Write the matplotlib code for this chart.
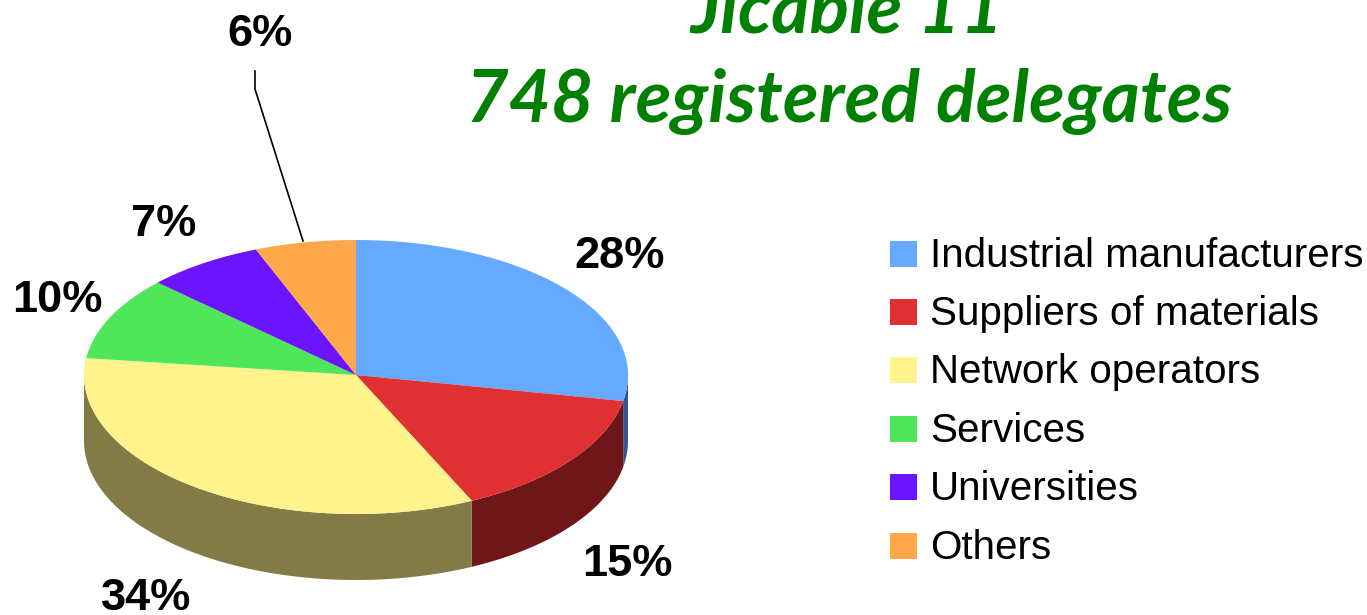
import matplotlib
import matplotlib.pyplot as plt
import numpy as np
matplotlib.use("Agg")

categories = ["Industrial manufacturers", "Suppliers of materials", "Network operators",
              "Services", "Universities", "Others"]
shares = [28, 15, 34, 10, 7, 6]
colors = ["#66aaff", "#e03034", "#fff48c", "#50e65a", "#6a14ff", "#ffa84a"]
side_colors = ["#2f5a8c", "#6e1618", "#827b46", "#28732d", "#350a80", "#805425"]
labels = ["28%", "15%", "34%", "10%", "7%", "6%"]
label_pos = [(620, 256), (627, 565), (146, 599), (57, 301), (164, 225), (260, 35)]
legend_y = [256, 314, 372, 431, 489, 548]
title = ["Jicable\u201911", "748 registered delegates"]

cx, cy, rx, ry_back, ry_front, depth = 356, 375, 272, 135, 139, 66


def rim(a):
    # a is clockwise degrees from the top, the near half of the pie is a bit deeper
    t = np.radians(a)
    c = np.cos(t)
    return cx + rx*np.sin(t), cy - np.where(c > 0, ry_back, ry_front)*c


fig = plt.figure(figsize=(13.67, 6.15), dpi=100)
ax = fig.add_axes([0, 0, 1, 1])
ax.set_xlim(0, 1367)
ax.set_ylim(615, 0)
ax.axis("off")

edges = np.cumsum([0] + shares) * 3.6

# side wall first, only the front half of the rim shows
for i in range(len(shares)):
    lo, hi = max(edges[i], 90), min(edges[i+1], 270)
    if hi <= lo:
        continue
    a = np.linspace(lo, hi, 100)
    x, y = rim(a)
    ax.fill(np.r_[x, x[::-1]], np.r_[y, y[::-1] + depth], color=side_colors[i], lw=0)

# top face
for i in range(len(shares)):
    a = np.linspace(edges[i], edges[i+1], 100)
    x, y = rim(a)
    ax.fill(np.r_[cx, x], np.r_[cy, y], color=colors[i], lw=0)

for s, (x, y) in zip(labels, label_pos):
    ax.text(x, y, s, fontsize=32.5, fontweight="bold", family="Liberation Sans",
            ha="center", va="center", color="black")

# leader line for the 6% label
ax.plot([255, 255, 303], [71, 89, 241], color="black", lw=1.2)

for name, col, y in zip(categories, colors, legend_y):
    ax.fill([890, 917, 917, 890], [y-15, y-15, y+11, y+11], color=col, lw=0)
    ax.text(930, y, name, fontsize=29.1, family="Liberation Sans", va="center", color="black")

ax.text(847, 34, title[0], fontsize=52.8, fontweight="bold", style="italic", family="Lato",
        ha="center", va="baseline", color="#008000")
ax.text(849, 122, title[1], fontsize=52.8, fontweight="bold", style="italic", family="Lato",
        ha="center", va="baseline", color="#008000")

fig.savefig("out.png", dpi=100)
